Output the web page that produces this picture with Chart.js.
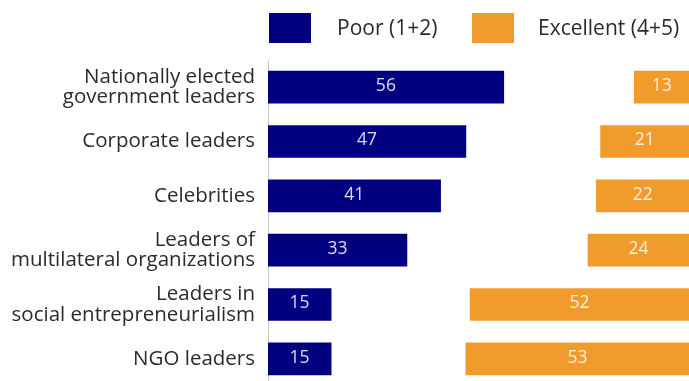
<!DOCTYPE html>
<html lang="en">
<head>
    <meta charset="UTF-8">
    <title>Leader ratings</title>
    <script src="https://cdn.jsdelivr.net/npm/chart.js"></script>
    <style>
        body {
            margin: 0;
            background-color: #ffffff;
            overflow: hidden;
        }

        canvas {
            display: block;
        }
    </style>
</head>
<body>

    <canvas id="barChart" width="689" height="386"></canvas>

    <script>
        // Data
        var categories = [
            ['Nationally elected', 'government leaders'],
            'Corporate leaders',
            'Celebrities',
            ['Leaders of', 'multilateral organizations'],
            ['Leaders in', 'social entrepreneurialism'],
            'NGO leaders'
        ];
        var poorValues = [56, 47, 41, 33, 15, 15];
        var excellentValues = [13, 21, 22, 24, 52, 53];
        var seriesNames = ['Poor (1+2)', 'Excellent (4+5)'];
        var scaleMax = 100;

        var navy = '#000080';
        var orange = '#F19B2C';
        var fontFamily = '"Open Sans", "Noto Sans", sans-serif';

        // white value labels in the middle of each bar
        var valueLabels = {
            id: 'valueLabels',
            afterDatasetsDraw: function (chart) {
                var ctx = chart.ctx;
                ctx.save();
                ctx.font = '17.5px ' + fontFamily;
                ctx.fillStyle = 'rgba(255, 255, 255, 0.85)';
                ctx.textAlign = 'center';
                ctx.textBaseline = 'middle';
                chart.data.datasets.forEach(function (ds, di) {
                    var meta = chart.getDatasetMeta(di);
                    var source = di === 0 ? poorValues : excellentValues;
                    meta.data.forEach(function (bar, i) {
                        ctx.fillText(String(source[i]), (bar.x + bar.base) / 2, bar.y - 1);
                    });
                });
                ctx.restore();
            }
        };

        // legend at the top, drawn by hand to get the box sizes right
        var topLegend = {
            id: 'topLegend',
            afterDraw: function (chart) {
                var ctx = chart.ctx;
                var items = [
                    { x: 269, gap: 68, text: seriesNames[0], color: navy },
                    { x: 472, gap: 66, text: seriesNames[1], color: orange }
                ];
                ctx.save();
                ctx.font = '21px ' + fontFamily;
                ctx.textBaseline = 'middle';
                ctx.textAlign = 'left';
                items.forEach(function (it) {
                    ctx.fillStyle = it.color;
                    ctx.fillRect(it.x, 13, 42, 30);
                    ctx.fillStyle = '#2b2b2b';
                    ctx.fillText(it.text, it.x + it.gap, 29);
                });
                ctx.restore();
            }
        };

        var ctx = document.getElementById('barChart').getContext('2d');
        var barChart = new Chart(ctx, {
            type: 'bar',
            data: {
                labels: categories,
                datasets: [{
                    label: seriesNames[0],
                    data: poorValues,
                    backgroundColor: navy,
                    grouped: false,
                    barThickness: 32
                }, {
                    label: seriesNames[1],
                    data: excellentValues.map(function (v) { return [scaleMax - v, scaleMax]; }),
                    backgroundColor: orange,
                    grouped: false,
                    barThickness: 32
                }]
            },
            options: {
                indexAxis: 'y',
                responsive: false,
                animation: false,
                layout: {
                    padding: { top: 60, right: 0, bottom: 0, left: 0 }
                },
                plugins: {
                    legend: { display: false },
                    tooltip: { enabled: false }
                },
                scales: {
                    x: {
                        display: false,
                        min: 0,
                        max: scaleMax
                    },
                    y: {
                        afterFit: function (scale) {
                            scale.width = 268;
                            // labels sit inside their rows, no extra room needed
                            scale.paddingTop = 0;
                            scale.paddingBottom = 0;
                        },
                        grid: { display: false, drawTicks: false },
                        border: { display: true, color: '#c8c8c8', width: 1 },
                        ticks: {
                            color: '#2b2b2b',
                            padding: 13,
                            font: { family: fontFamily, size: 20.5, lineHeight: 1.02 }
                        }
                    }
                }
            },
            plugins: [valueLabels, topLegend]
        });
    </script>

</body>
</html>
